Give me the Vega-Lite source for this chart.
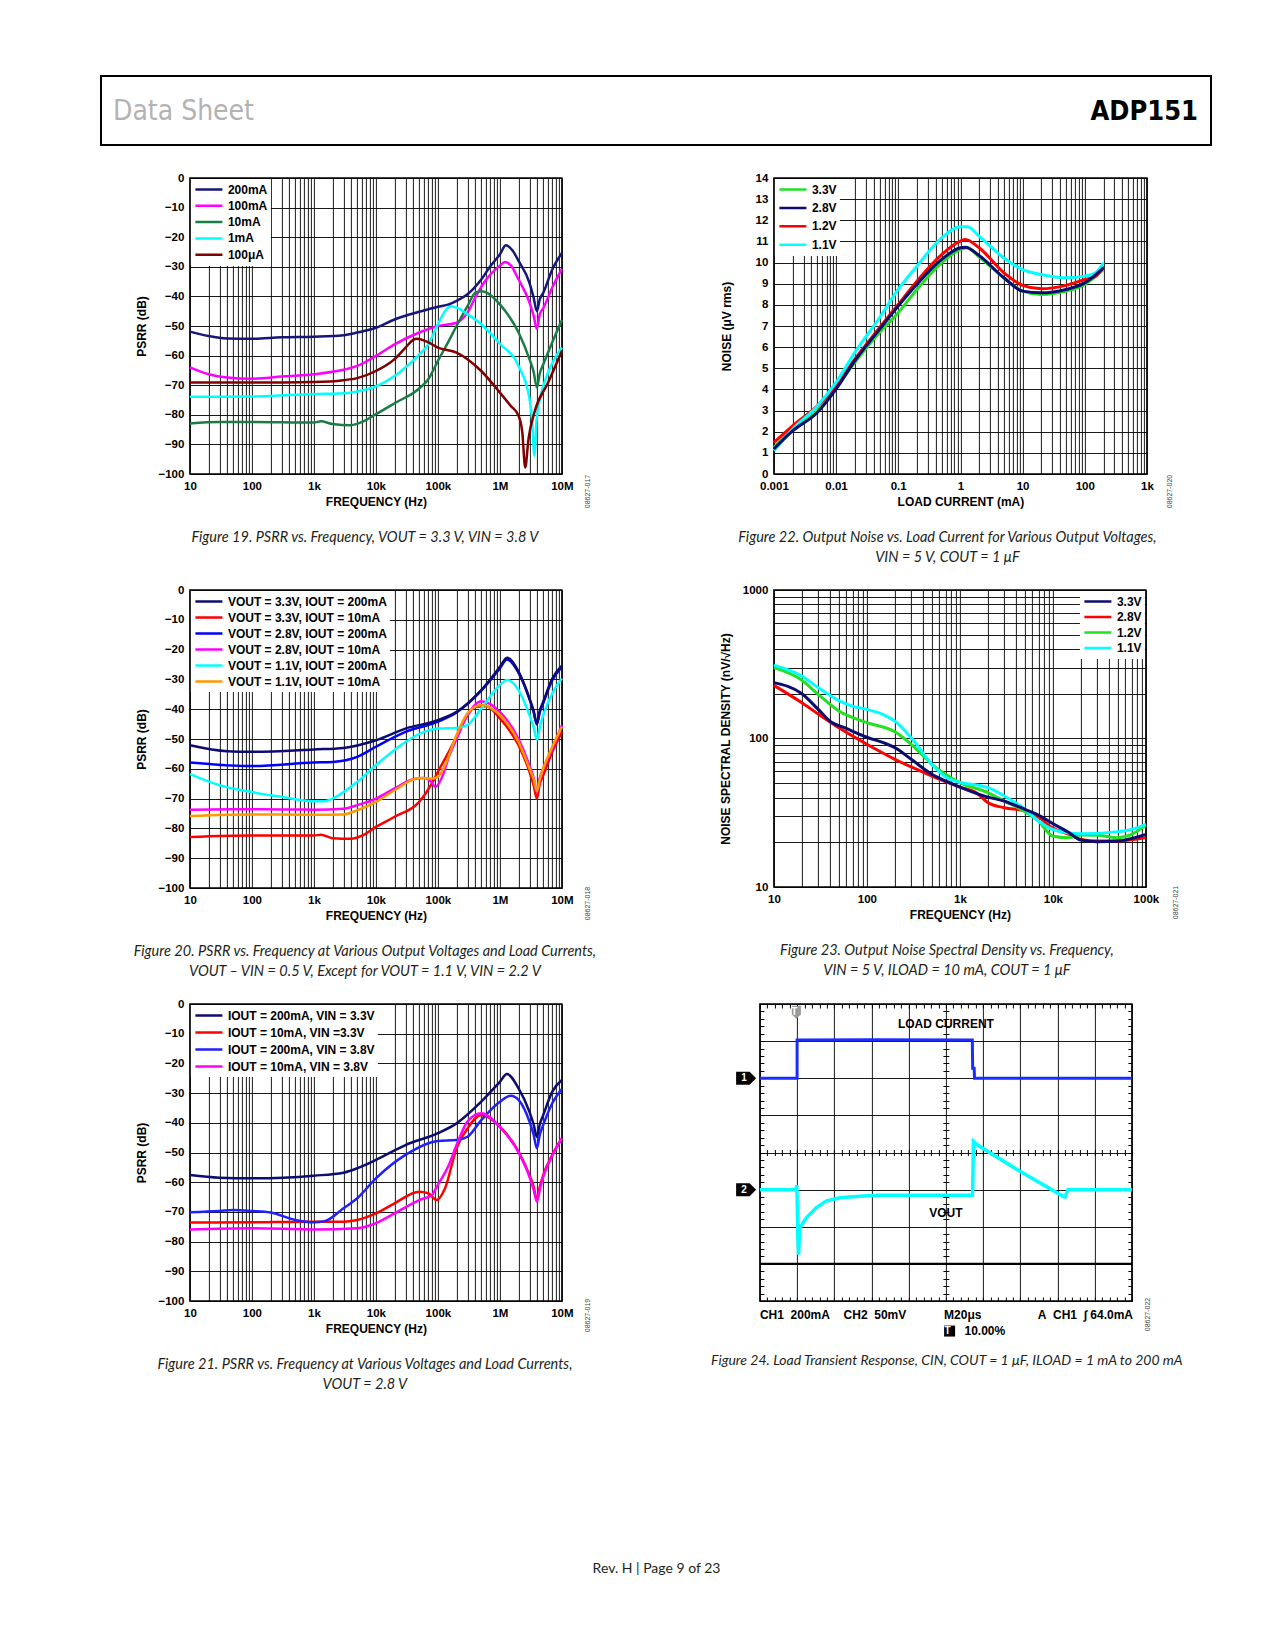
{
"$schema": "https://vega.github.io/schema/vega-lite/v6.json",
"background": "white",
"padding": {"left": 100, "top": 75, "right": 0, "bottom": 5},
"title": {"text": "Rev. H | Page 9 of 23", "orient": "bottom", "anchor": "middle", "frame": "bounds", "dx": -30, "font": "Lato", "fontStyle": "normal", "fontWeight": "normal", "fontSize": 14, "color": "#231f20", "offset": 170},
"spacing": 25,
"center": true,
"resolve": {"scale": {"color": "independent"}, "legend": {"color": "independent"}},
"datasets": {
"d19": [
{"s":"200mA","f":10,"v":-51.9},{"s":"200mA","f":20,"v":-53.4},{"s":"200mA","f":40,"v":-54.2},{"s":"200mA","f":100,"v":-54.3},{"s":"200mA","f":300,"v":-53.8},{"s":"200mA","f":1000,"v":-53.6},{"s":"200mA","f":3000,"v":-53.1},{"s":"200mA","f":5000,"v":-52.2},{"s":"200mA","f":10000,"v":-50.6},{"s":"200mA","f":20000,"v":-47.8},{"s":"200mA","f":50000,"v":-45.2},{"s":"200mA","f":100000,"v":-43.5},{"s":"200mA","f":150000,"v":-42.7},{"s":"200mA","f":200000,"v":-41.5},{"s":"200mA","f":300000,"v":-39.3},{"s":"200mA","f":500000,"v":-34.3},{"s":"200mA","f":700000,"v":-29.8},{"s":"200mA","f":1000000,"v":-25.8},{"s":"200mA","f":1250000,"v":-22.7},{"s":"200mA","f":1600000,"v":-24.5},{"s":"200mA","f":2000000,"v":-28},{"s":"200mA","f":3000000,"v":-35.4},{"s":"200mA","f":3500000,"v":-40.4},{"s":"200mA","f":3950000,"v":-45},{"s":"200mA","f":4400000,"v":-41},{"s":"200mA","f":5000000,"v":-38.8},{"s":"200mA","f":7000000,"v":-30.9},{"s":"200mA","f":10000000,"v":-25.3},
{"s":"100mA","f":10,"v":-64},{"s":"100mA","f":20,"v":-66.3},{"s":"100mA","f":40,"v":-67.4},{"s":"100mA","f":100,"v":-67.8},{"s":"100mA","f":300,"v":-67.1},{"s":"100mA","f":1000,"v":-66.3},{"s":"100mA","f":3000,"v":-64.8},{"s":"100mA","f":5000,"v":-63.5},{"s":"100mA","f":10000,"v":-60.1},{"s":"100mA","f":20000,"v":-56.2},{"s":"100mA","f":50000,"v":-52.2},{"s":"100mA","f":100000,"v":-50},{"s":"100mA","f":200000,"v":-48.9},{"s":"100mA","f":300000,"v":-45.5},{"s":"100mA","f":400000,"v":-40.4},{"s":"100mA","f":600000,"v":-34.3},{"s":"100mA","f":1000000,"v":-29.6},{"s":"100mA","f":1200000,"v":-28.4},{"s":"100mA","f":1500000,"v":-29.5},{"s":"100mA","f":2000000,"v":-34.3},{"s":"100mA","f":3000000,"v":-42.1},{"s":"100mA","f":3500000,"v":-46.5},{"s":"100mA","f":3950000,"v":-51},{"s":"100mA","f":4400000,"v":-46},{"s":"100mA","f":5000000,"v":-44},{"s":"100mA","f":7000000,"v":-37},{"s":"100mA","f":10000000,"v":-30.7},
{"s":"10mA","f":10,"v":-82.9},{"s":"10mA","f":30,"v":-82.4},{"s":"10mA","f":100,"v":-82.4},{"s":"10mA","f":1000,"v":-82.6},{"s":"10mA","f":1300,"v":-82.2},{"s":"10mA","f":2000,"v":-83.1},{"s":"10mA","f":4000,"v":-83.5},{"s":"10mA","f":6000,"v":-82.4},{"s":"10mA","f":10000,"v":-79.8},{"s":"10mA","f":20000,"v":-76.1},{"s":"10mA","f":50000,"v":-71.1},{"s":"10mA","f":70000,"v":-68},{"s":"10mA","f":100000,"v":-61.8},{"s":"10mA","f":150000,"v":-55},{"s":"10mA","f":200000,"v":-50},{"s":"10mA","f":300000,"v":-43.3},{"s":"10mA","f":400000,"v":-38.8},{"s":"10mA","f":500000,"v":-38.3},{"s":"10mA","f":700000,"v":-39.5},{"s":"10mA","f":1000000,"v":-42.7},{"s":"10mA","f":2000000,"v":-52.2},{"s":"10mA","f":3000000,"v":-61.2},{"s":"10mA","f":3500000,"v":-65.5},{"s":"10mA","f":3950000,"v":-70.8},{"s":"10mA","f":4400000,"v":-66},{"s":"10mA","f":5000000,"v":-63},{"s":"10mA","f":7000000,"v":-55.5},{"s":"10mA","f":10000000,"v":-48},
{"s":"1mA","f":10,"v":-73.9},{"s":"1mA","f":100,"v":-73.8},{"s":"1mA","f":1000,"v":-73},{"s":"1mA","f":3000,"v":-72.7},{"s":"1mA","f":5000,"v":-72.1},{"s":"1mA","f":10000,"v":-70.4},{"s":"1mA","f":20000,"v":-66.9},{"s":"1mA","f":50000,"v":-59.6},{"s":"1mA","f":70000,"v":-56.2},{"s":"1mA","f":100000,"v":-49.4},{"s":"1mA","f":130000,"v":-45},{"s":"1mA","f":160000,"v":-43.3},{"s":"1mA","f":200000,"v":-43.8},{"s":"1mA","f":300000,"v":-46},{"s":"1mA","f":500000,"v":-49.4},{"s":"1mA","f":1000000,"v":-56},{"s":"1mA","f":2000000,"v":-63.5},{"s":"1mA","f":3000000,"v":-74.5},{"s":"1mA","f":3300000,"v":-81.5},{"s":"1mA","f":3600000,"v":-93.8},{"s":"1mA","f":3900000,"v":-82},{"s":"1mA","f":4500000,"v":-74},{"s":"1mA","f":6000000,"v":-65.7},{"s":"1mA","f":10000000,"v":-57.3},
{"s":"100μA","f":10,"v":-69.1},{"s":"100μA","f":100,"v":-69.1},{"s":"100μA","f":1000,"v":-68.9},{"s":"100μA","f":3000,"v":-68.3},{"s":"100μA","f":5000,"v":-67.6},{"s":"100μA","f":10000,"v":-65.2},{"s":"100μA","f":20000,"v":-61.2},{"s":"100μA","f":30000,"v":-57.3},{"s":"100μA","f":40000,"v":-54.7},{"s":"100μA","f":45000,"v":-54.3},{"s":"100μA","f":70000,"v":-55.5},{"s":"100μA","f":100000,"v":-57.3},{"s":"100μA","f":200000,"v":-59},{"s":"100μA","f":300000,"v":-61.2},{"s":"100μA","f":500000,"v":-65.2},{"s":"100μA","f":1000000,"v":-72.5},{"s":"100μA","f":1500000,"v":-77},{"s":"100μA","f":2000000,"v":-80.3},{"s":"100μA","f":2300000,"v":-86},{"s":"100μA","f":2560000,"v":-97.8},{"s":"100μA","f":2900000,"v":-88},{"s":"100μA","f":3600000,"v":-79.2},{"s":"100μA","f":6000000,"v":-69.1},{"s":"100μA","f":10000000,"v":-58.4}
],
"d20": [
{"s":"VOUT = 3.3V, IOUT = 200mA","f":10,"v":-52.1},{"s":"VOUT = 3.3V, IOUT = 200mA","f":40,"v":-54.1},{"s":"VOUT = 3.3V, IOUT = 200mA","f":100,"v":-54.3},{"s":"VOUT = 3.3V, IOUT = 200mA","f":1000,"v":-53.5},{"s":"VOUT = 3.3V, IOUT = 200mA","f":3000,"v":-53},{"s":"VOUT = 3.3V, IOUT = 200mA","f":10000,"v":-50.4},{"s":"VOUT = 3.3V, IOUT = 200mA","f":30000,"v":-46.5},{"s":"VOUT = 3.3V, IOUT = 200mA","f":100000,"v":-43.7},{"s":"VOUT = 3.3V, IOUT = 200mA","f":200000,"v":-40.9},{"s":"VOUT = 3.3V, IOUT = 200mA","f":500000,"v":-33.6},{"s":"VOUT = 3.3V, IOUT = 200mA","f":1000000,"v":-25.8},{"s":"VOUT = 3.3V, IOUT = 200mA","f":1300000,"v":-22.7},{"s":"VOUT = 3.3V, IOUT = 200mA","f":2000000,"v":-27.4},{"s":"VOUT = 3.3V, IOUT = 200mA","f":3000000,"v":-36.4},{"s":"VOUT = 3.3V, IOUT = 200mA","f":3500000,"v":-40.5},{"s":"VOUT = 3.3V, IOUT = 200mA","f":3950000,"v":-44.8},{"s":"VOUT = 3.3V, IOUT = 200mA","f":4400000,"v":-40.5},{"s":"VOUT = 3.3V, IOUT = 200mA","f":5000000,"v":-37.5},{"s":"VOUT = 3.3V, IOUT = 200mA","f":7000000,"v":-29.7},{"s":"VOUT = 3.3V, IOUT = 200mA","f":10000000,"v":-25.4},
{"s":"VOUT = 3.3V, IOUT = 10mA","f":10,"v":-82.9},{"s":"VOUT = 3.3V, IOUT = 10mA","f":100,"v":-82.4},{"s":"VOUT = 3.3V, IOUT = 10mA","f":1000,"v":-82.4},{"s":"VOUT = 3.3V, IOUT = 10mA","f":1300,"v":-82.1},{"s":"VOUT = 3.3V, IOUT = 10mA","f":2000,"v":-83.3},{"s":"VOUT = 3.3V, IOUT = 10mA","f":4000,"v":-83.5},{"s":"VOUT = 3.3V, IOUT = 10mA","f":6000,"v":-82.4},{"s":"VOUT = 3.3V, IOUT = 10mA","f":10000,"v":-79.5},{"s":"VOUT = 3.3V, IOUT = 10mA","f":20000,"v":-76.1},{"s":"VOUT = 3.3V, IOUT = 10mA","f":50000,"v":-71.1},{"s":"VOUT = 3.3V, IOUT = 10mA","f":80000,"v":-64.9},{"s":"VOUT = 3.3V, IOUT = 10mA","f":100000,"v":-61},{"s":"VOUT = 3.3V, IOUT = 10mA","f":150000,"v":-54.3},{"s":"VOUT = 3.3V, IOUT = 10mA","f":200000,"v":-49.3},{"s":"VOUT = 3.3V, IOUT = 10mA","f":300000,"v":-42},{"s":"VOUT = 3.3V, IOUT = 10mA","f":400000,"v":-39.2},{"s":"VOUT = 3.3V, IOUT = 10mA","f":600000,"v":-39},{"s":"VOUT = 3.3V, IOUT = 10mA","f":1000000,"v":-43.1},{"s":"VOUT = 3.3V, IOUT = 10mA","f":2000000,"v":-52.1},{"s":"VOUT = 3.3V, IOUT = 10mA","f":3000000,"v":-61},{"s":"VOUT = 3.3V, IOUT = 10mA","f":3500000,"v":-65.5},{"s":"VOUT = 3.3V, IOUT = 10mA","f":3950000,"v":-70},{"s":"VOUT = 3.3V, IOUT = 10mA","f":4400000,"v":-65},{"s":"VOUT = 3.3V, IOUT = 10mA","f":5000000,"v":-62.2},{"s":"VOUT = 3.3V, IOUT = 10mA","f":7000000,"v":-54.3},{"s":"VOUT = 3.3V, IOUT = 10mA","f":10000000,"v":-47.6},
{"s":"VOUT = 2.8V, IOUT = 200mA","f":10,"v":-57.9},{"s":"VOUT = 2.8V, IOUT = 200mA","f":100,"v":-59.1},{"s":"VOUT = 2.8V, IOUT = 200mA","f":1000,"v":-57.9},{"s":"VOUT = 2.8V, IOUT = 200mA","f":2000,"v":-57.7},{"s":"VOUT = 2.8V, IOUT = 200mA","f":5000,"v":-56},{"s":"VOUT = 2.8V, IOUT = 200mA","f":10000,"v":-52.6},{"s":"VOUT = 2.8V, IOUT = 200mA","f":30000,"v":-47.6},{"s":"VOUT = 2.8V, IOUT = 200mA","f":100000,"v":-44.2},{"s":"VOUT = 2.8V, IOUT = 200mA","f":200000,"v":-41.1},{"s":"VOUT = 2.8V, IOUT = 200mA","f":500000,"v":-33.8},{"s":"VOUT = 2.8V, IOUT = 200mA","f":1000000,"v":-26.3},{"s":"VOUT = 2.8V, IOUT = 200mA","f":1300000,"v":-23.3},{"s":"VOUT = 2.8V, IOUT = 200mA","f":2000000,"v":-27.8},{"s":"VOUT = 2.8V, IOUT = 200mA","f":3000000,"v":-36.6},{"s":"VOUT = 2.8V, IOUT = 200mA","f":3500000,"v":-41},{"s":"VOUT = 2.8V, IOUT = 200mA","f":3950000,"v":-45.1},{"s":"VOUT = 2.8V, IOUT = 200mA","f":4400000,"v":-41},{"s":"VOUT = 2.8V, IOUT = 200mA","f":5000000,"v":-38},{"s":"VOUT = 2.8V, IOUT = 200mA","f":7000000,"v":-30.3},{"s":"VOUT = 2.8V, IOUT = 200mA","f":10000000,"v":-25.8},
{"s":"VOUT = 2.8V, IOUT = 10mA","f":10,"v":-73.7},{"s":"VOUT = 2.8V, IOUT = 10mA","f":100,"v":-73.6},{"s":"VOUT = 2.8V, IOUT = 10mA","f":1000,"v":-73.7},{"s":"VOUT = 2.8V, IOUT = 10mA","f":3000,"v":-73.4},{"s":"VOUT = 2.8V, IOUT = 10mA","f":5000,"v":-72.2},{"s":"VOUT = 2.8V, IOUT = 10mA","f":10000,"v":-70},{"s":"VOUT = 2.8V, IOUT = 10mA","f":20000,"v":-66.6},{"s":"VOUT = 2.8V, IOUT = 10mA","f":40000,"v":-63.5},{"s":"VOUT = 2.8V, IOUT = 10mA","f":60000,"v":-63.1},{"s":"VOUT = 2.8V, IOUT = 10mA","f":80000,"v":-64.6},{"s":"VOUT = 2.8V, IOUT = 10mA","f":91000,"v":-66.1},{"s":"VOUT = 2.8V, IOUT = 10mA","f":120000,"v":-62.2},{"s":"VOUT = 2.8V, IOUT = 10mA","f":150000,"v":-56},{"s":"VOUT = 2.8V, IOUT = 10mA","f":200000,"v":-50},{"s":"VOUT = 2.8V, IOUT = 10mA","f":300000,"v":-42},{"s":"VOUT = 2.8V, IOUT = 10mA","f":500000,"v":-37.3},{"s":"VOUT = 2.8V, IOUT = 10mA","f":1000000,"v":-40.9},{"s":"VOUT = 2.8V, IOUT = 10mA","f":2000000,"v":-50},{"s":"VOUT = 2.8V, IOUT = 10mA","f":3000000,"v":-58.9},{"s":"VOUT = 2.8V, IOUT = 10mA","f":3500000,"v":-63},{"s":"VOUT = 2.8V, IOUT = 10mA","f":3950000,"v":-67.7},{"s":"VOUT = 2.8V, IOUT = 10mA","f":4400000,"v":-63},{"s":"VOUT = 2.8V, IOUT = 10mA","f":5000000,"v":-60},{"s":"VOUT = 2.8V, IOUT = 10mA","f":7000000,"v":-53.3},{"s":"VOUT = 2.8V, IOUT = 10mA","f":10000000,"v":-45.4},
{"s":"VOUT = 1.1V, IOUT = 200mA","f":10,"v":-61.8},{"s":"VOUT = 1.1V, IOUT = 200mA","f":30,"v":-65.5},{"s":"VOUT = 1.1V, IOUT = 200mA","f":100,"v":-67.8},{"s":"VOUT = 1.1V, IOUT = 200mA","f":300,"v":-69.4},{"s":"VOUT = 1.1V, IOUT = 200mA","f":1000,"v":-70.9},{"s":"VOUT = 1.1V, IOUT = 200mA","f":1500,"v":-70.9},{"s":"VOUT = 1.1V, IOUT = 200mA","f":2000,"v":-70},{"s":"VOUT = 1.1V, IOUT = 200mA","f":5000,"v":-64.4},{"s":"VOUT = 1.1V, IOUT = 200mA","f":10000,"v":-58.8},{"s":"VOUT = 1.1V, IOUT = 200mA","f":30000,"v":-51},{"s":"VOUT = 1.1V, IOUT = 200mA","f":60000,"v":-47.6},{"s":"VOUT = 1.1V, IOUT = 200mA","f":100000,"v":-46.5},{"s":"VOUT = 1.1V, IOUT = 200mA","f":200000,"v":-46.3},{"s":"VOUT = 1.1V, IOUT = 200mA","f":300000,"v":-45.3},{"s":"VOUT = 1.1V, IOUT = 200mA","f":500000,"v":-39.8},{"s":"VOUT = 1.1V, IOUT = 200mA","f":1000000,"v":-31.9},{"s":"VOUT = 1.1V, IOUT = 200mA","f":1300000,"v":-30.2},{"s":"VOUT = 1.1V, IOUT = 200mA","f":2000000,"v":-33.6},{"s":"VOUT = 1.1V, IOUT = 200mA","f":3000000,"v":-42},{"s":"VOUT = 1.1V, IOUT = 200mA","f":3500000,"v":-46},{"s":"VOUT = 1.1V, IOUT = 200mA","f":3950000,"v":-50.2},{"s":"VOUT = 1.1V, IOUT = 200mA","f":4400000,"v":-46},{"s":"VOUT = 1.1V, IOUT = 200mA","f":5000000,"v":-42},{"s":"VOUT = 1.1V, IOUT = 200mA","f":7000000,"v":-34.7},{"s":"VOUT = 1.1V, IOUT = 200mA","f":10000000,"v":-29.7},
{"s":"VOUT = 1.1V, IOUT = 10mA","f":10,"v":-75.8},{"s":"VOUT = 1.1V, IOUT = 10mA","f":100,"v":-75.3},{"s":"VOUT = 1.1V, IOUT = 10mA","f":1000,"v":-75.4},{"s":"VOUT = 1.1V, IOUT = 10mA","f":3000,"v":-75.3},{"s":"VOUT = 1.1V, IOUT = 10mA","f":5000,"v":-73.9},{"s":"VOUT = 1.1V, IOUT = 10mA","f":10000,"v":-71.1},{"s":"VOUT = 1.1V, IOUT = 10mA","f":20000,"v":-67.2},{"s":"VOUT = 1.1V, IOUT = 10mA","f":50000,"v":-63.1},{"s":"VOUT = 1.1V, IOUT = 10mA","f":80000,"v":-63.3},{"s":"VOUT = 1.1V, IOUT = 10mA","f":100000,"v":-62.7},{"s":"VOUT = 1.1V, IOUT = 10mA","f":130000,"v":-58.8},{"s":"VOUT = 1.1V, IOUT = 10mA","f":200000,"v":-48.7},{"s":"VOUT = 1.1V, IOUT = 10mA","f":300000,"v":-41.4},{"s":"VOUT = 1.1V, IOUT = 10mA","f":500000,"v":-38.6},{"s":"VOUT = 1.1V, IOUT = 10mA","f":1000000,"v":-42},{"s":"VOUT = 1.1V, IOUT = 10mA","f":2000000,"v":-51},{"s":"VOUT = 1.1V, IOUT = 10mA","f":3000000,"v":-59.9},{"s":"VOUT = 1.1V, IOUT = 10mA","f":3500000,"v":-63.5},{"s":"VOUT = 1.1V, IOUT = 10mA","f":3950000,"v":-67.5},{"s":"VOUT = 1.1V, IOUT = 10mA","f":4400000,"v":-63.5},{"s":"VOUT = 1.1V, IOUT = 10mA","f":5000000,"v":-59.9},{"s":"VOUT = 1.1V, IOUT = 10mA","f":7000000,"v":-52.6},{"s":"VOUT = 1.1V, IOUT = 10mA","f":10000000,"v":-45.9}
],
"d21": [
{"s":"IOUT = 200mA, VIN = 3.3V","f":10,"v":-57.6},{"s":"IOUT = 200mA, VIN = 3.3V","f":30,"v":-58.5},{"s":"IOUT = 200mA, VIN = 3.3V","f":100,"v":-58.7},{"s":"IOUT = 200mA, VIN = 3.3V","f":1000,"v":-57.8},{"s":"IOUT = 200mA, VIN = 3.3V","f":3000,"v":-56.8},{"s":"IOUT = 200mA, VIN = 3.3V","f":5000,"v":-55.3},{"s":"IOUT = 200mA, VIN = 3.3V","f":10000,"v":-52.5},{"s":"IOUT = 200mA, VIN = 3.3V","f":30000,"v":-47.5},{"s":"IOUT = 200mA, VIN = 3.3V","f":100000,"v":-43.5},{"s":"IOUT = 200mA, VIN = 3.3V","f":200000,"v":-40.2},{"s":"IOUT = 200mA, VIN = 3.3V","f":500000,"v":-32.9},{"s":"IOUT = 200mA, VIN = 3.3V","f":1000000,"v":-26.2},{"s":"IOUT = 200mA, VIN = 3.3V","f":1300000,"v":-23.6},{"s":"IOUT = 200mA, VIN = 3.3V","f":2000000,"v":-28.4},{"s":"IOUT = 200mA, VIN = 3.3V","f":3000000,"v":-36.3},{"s":"IOUT = 200mA, VIN = 3.3V","f":3500000,"v":-40.5},{"s":"IOUT = 200mA, VIN = 3.3V","f":3950000,"v":-44.7},{"s":"IOUT = 200mA, VIN = 3.3V","f":4400000,"v":-40.5},{"s":"IOUT = 200mA, VIN = 3.3V","f":5000000,"v":-37.4},{"s":"IOUT = 200mA, VIN = 3.3V","f":7000000,"v":-29.5},{"s":"IOUT = 200mA, VIN = 3.3V","f":10000000,"v":-25.6},
{"s":"IOUT = 10mA, VIN =3.3V","f":10,"v":-73.6},{"s":"IOUT = 10mA, VIN =3.3V","f":100,"v":-73.5},{"s":"IOUT = 10mA, VIN =3.3V","f":1000,"v":-73.3},{"s":"IOUT = 10mA, VIN =3.3V","f":3000,"v":-73.3},{"s":"IOUT = 10mA, VIN =3.3V","f":5000,"v":-72.7},{"s":"IOUT = 10mA, VIN =3.3V","f":10000,"v":-70.5},{"s":"IOUT = 10mA, VIN =3.3V","f":20000,"v":-67.1},{"s":"IOUT = 10mA, VIN =3.3V","f":50000,"v":-63.2},{"s":"IOUT = 10mA, VIN =3.3V","f":70000,"v":-63.7},{"s":"IOUT = 10mA, VIN =3.3V","f":95000,"v":-66},{"s":"IOUT = 10mA, VIN =3.3V","f":130000,"v":-62.1},{"s":"IOUT = 10mA, VIN =3.3V","f":200000,"v":-48.6},{"s":"IOUT = 10mA, VIN =3.3V","f":300000,"v":-41.9},{"s":"IOUT = 10mA, VIN =3.3V","f":500000,"v":-37.4},{"s":"IOUT = 10mA, VIN =3.3V","f":1000000,"v":-41.3},{"s":"IOUT = 10mA, VIN =3.3V","f":2000000,"v":-49.7},{"s":"IOUT = 10mA, VIN =3.3V","f":3000000,"v":-57.6},{"s":"IOUT = 10mA, VIN =3.3V","f":3500000,"v":-61.5},{"s":"IOUT = 10mA, VIN =3.3V","f":3950000,"v":-66},{"s":"IOUT = 10mA, VIN =3.3V","f":4400000,"v":-61.5},{"s":"IOUT = 10mA, VIN =3.3V","f":5000000,"v":-57.6},{"s":"IOUT = 10mA, VIN =3.3V","f":7000000,"v":-50.8},{"s":"IOUT = 10mA, VIN =3.3V","f":10000000,"v":-45.2},
{"s":"IOUT = 200mA, VIN = 3.8V","f":10,"v":-70.1},{"s":"IOUT = 200mA, VIN = 3.8V","f":30,"v":-69.7},{"s":"IOUT = 200mA, VIN = 3.8V","f":50,"v":-69.4},{"s":"IOUT = 200mA, VIN = 3.8V","f":100,"v":-69.7},{"s":"IOUT = 200mA, VIN = 3.8V","f":200,"v":-70.2},{"s":"IOUT = 200mA, VIN = 3.8V","f":500,"v":-72.7},{"s":"IOUT = 200mA, VIN = 3.8V","f":1000,"v":-73.5},{"s":"IOUT = 200mA, VIN = 3.8V","f":1500,"v":-73.1},{"s":"IOUT = 200mA, VIN = 3.8V","f":3000,"v":-68.8},{"s":"IOUT = 200mA, VIN = 3.8V","f":5000,"v":-65.4},{"s":"IOUT = 200mA, VIN = 3.8V","f":10000,"v":-58.7},{"s":"IOUT = 200mA, VIN = 3.8V","f":30000,"v":-50.8},{"s":"IOUT = 200mA, VIN = 3.8V","f":100000,"v":-46.1},{"s":"IOUT = 200mA, VIN = 3.8V","f":200000,"v":-45.8},{"s":"IOUT = 200mA, VIN = 3.8V","f":300000,"v":-44.7},{"s":"IOUT = 200mA, VIN = 3.8V","f":500000,"v":-39.1},{"s":"IOUT = 200mA, VIN = 3.8V","f":1000000,"v":-32.9},{"s":"IOUT = 200mA, VIN = 3.8V","f":1500000,"v":-30.9},{"s":"IOUT = 200mA, VIN = 3.8V","f":2000000,"v":-32.3},{"s":"IOUT = 200mA, VIN = 3.8V","f":3000000,"v":-39.6},{"s":"IOUT = 200mA, VIN = 3.8V","f":3500000,"v":-44},{"s":"IOUT = 200mA, VIN = 3.8V","f":3950000,"v":-48.6},{"s":"IOUT = 200mA, VIN = 3.8V","f":4400000,"v":-44},{"s":"IOUT = 200mA, VIN = 3.8V","f":5000000,"v":-40.7},{"s":"IOUT = 200mA, VIN = 3.8V","f":7000000,"v":-33.4},{"s":"IOUT = 200mA, VIN = 3.8V","f":10000000,"v":-28.6},
{"s":"IOUT = 10mA, VIN = 3.8V","f":10,"v":-75.9},{"s":"IOUT = 10mA, VIN = 3.8V","f":100,"v":-75.5},{"s":"IOUT = 10mA, VIN = 3.8V","f":1000,"v":-75.9},{"s":"IOUT = 10mA, VIN = 3.8V","f":5000,"v":-75.5},{"s":"IOUT = 10mA, VIN = 3.8V","f":10000,"v":-73.8},{"s":"IOUT = 10mA, VIN = 3.8V","f":20000,"v":-70.5},{"s":"IOUT = 10mA, VIN = 3.8V","f":50000,"v":-66},{"s":"IOUT = 10mA, VIN = 3.8V","f":80000,"v":-64.3},{"s":"IOUT = 10mA, VIN = 3.8V","f":100000,"v":-60.9},{"s":"IOUT = 10mA, VIN = 3.8V","f":150000,"v":-54.2},{"s":"IOUT = 10mA, VIN = 3.8V","f":200000,"v":-47.5},{"s":"IOUT = 10mA, VIN = 3.8V","f":300000,"v":-39.6},{"s":"IOUT = 10mA, VIN = 3.8V","f":500000,"v":-36.8},{"s":"IOUT = 10mA, VIN = 3.8V","f":1000000,"v":-41.5},{"s":"IOUT = 10mA, VIN = 3.8V","f":2000000,"v":-50},{"s":"IOUT = 10mA, VIN = 3.8V","f":3000000,"v":-58.2},{"s":"IOUT = 10mA, VIN = 3.8V","f":3500000,"v":-62.5},{"s":"IOUT = 10mA, VIN = 3.8V","f":3950000,"v":-66.6},{"s":"IOUT = 10mA, VIN = 3.8V","f":4400000,"v":-62.5},{"s":"IOUT = 10mA, VIN = 3.8V","f":5000000,"v":-58.2},{"s":"IOUT = 10mA, VIN = 3.8V","f":7000000,"v":-51},{"s":"IOUT = 10mA, VIN = 3.8V","f":10000000,"v":-45.2}
],
"d22": [
{"s":"3.3V","f":0.001,"v":1.26},{"s":"3.3V","f":0.002,"v":2.12},{"s":"3.3V","f":0.005,"v":2.99},{"s":"3.3V","f":0.01,"v":4.09},{"s":"3.3V","f":0.02,"v":5.27},{"s":"3.3V","f":0.05,"v":6.69},{"s":"3.3V","f":0.1,"v":7.63},{"s":"3.3V","f":0.2,"v":8.73},{"s":"3.3V","f":0.5,"v":9.99},{"s":"3.3V","f":1,"v":10.62},{"s":"3.3V","f":1.3,"v":10.7},{"s":"3.3V","f":2,"v":10.27},{"s":"3.3V","f":5,"v":9.28},{"s":"3.3V","f":10,"v":8.65},{"s":"3.3V","f":20,"v":8.49},{"s":"3.3V","f":50,"v":8.65},{"s":"3.3V","f":100,"v":8.97},{"s":"3.3V","f":200,"v":9.67},
{"s":"2.8V","f":0.001,"v":1.18},{"s":"2.8V","f":0.002,"v":2.04},{"s":"2.8V","f":0.005,"v":2.91},{"s":"2.8V","f":0.01,"v":4.01},{"s":"2.8V","f":0.02,"v":5.35},{"s":"2.8V","f":0.05,"v":6.84},{"s":"2.8V","f":0.1,"v":7.94},{"s":"2.8V","f":0.2,"v":8.97},{"s":"2.8V","f":0.5,"v":10.15},{"s":"2.8V","f":1,"v":10.7},{"s":"2.8V","f":1.2,"v":10.73},{"s":"2.8V","f":2,"v":10.33},{"s":"2.8V","f":5,"v":9.28},{"s":"2.8V","f":10,"v":8.65},{"s":"2.8V","f":20,"v":8.57},{"s":"2.8V","f":50,"v":8.73},{"s":"2.8V","f":100,"v":9.04},{"s":"2.8V","f":200,"v":9.75},
{"s":"1.2V","f":0.001,"v":1.49},{"s":"1.2V","f":0.002,"v":2.28},{"s":"1.2V","f":0.005,"v":3.22},{"s":"1.2V","f":0.01,"v":4.17},{"s":"1.2V","f":0.02,"v":5.43},{"s":"1.2V","f":0.05,"v":6.92},{"s":"1.2V","f":0.1,"v":8.02},{"s":"1.2V","f":0.2,"v":9.12},{"s":"1.2V","f":0.5,"v":10.38},{"s":"1.2V","f":1,"v":11.01},{"s":"1.2V","f":1.2,"v":11.09},{"s":"1.2V","f":2,"v":10.7},{"s":"1.2V","f":5,"v":9.52},{"s":"1.2V","f":10,"v":8.92},{"s":"1.2V","f":20,"v":8.76},{"s":"1.2V","f":50,"v":8.92},{"s":"1.2V","f":100,"v":9.2},{"s":"1.2V","f":150,"v":9.36},{"s":"1.2V","f":200,"v":9.83},
{"s":"1.1V","f":0.001,"v":1.1},{"s":"1.1V","f":0.002,"v":2.12},{"s":"1.1V","f":0.005,"v":3.22},{"s":"1.1V","f":0.01,"v":4.33},{"s":"1.1V","f":0.02,"v":5.74},{"s":"1.1V","f":0.05,"v":7.39},{"s":"1.1V","f":0.1,"v":8.73},{"s":"1.1V","f":0.2,"v":9.83},{"s":"1.1V","f":0.5,"v":11.17},{"s":"1.1V","f":1,"v":11.69},{"s":"1.1V","f":1.3,"v":11.69},{"s":"1.1V","f":2,"v":11.25},{"s":"1.1V","f":5,"v":10.22},{"s":"1.1V","f":10,"v":9.67},{"s":"1.1V","f":20,"v":9.44},{"s":"1.1V","f":50,"v":9.28},{"s":"1.1V","f":100,"v":9.36},{"s":"1.1V","f":150,"v":9.52},{"s":"1.1V","f":200,"v":9.99}
],
"d23": [
{"s":"3.3V","f":10,"v":237.7},{"s":"3.3V","f":20,"v":200},{"s":"3.3V","f":30,"v":157},{"s":"3.3V","f":40,"v":131},{"s":"3.3V","f":60,"v":117},{"s":"3.3V","f":100,"v":102},{"s":"3.3V","f":150,"v":93.7},{"s":"3.3V","f":200,"v":86.8},{"s":"3.3V","f":300,"v":72.4},{"s":"3.3V","f":500,"v":57.4},{"s":"3.3V","f":700,"v":51.8},{"s":"3.3V","f":1000,"v":47.1},{"s":"3.3V","f":2000,"v":40.3},{"s":"3.3V","f":3000,"v":37.9},{"s":"3.3V","f":5000,"v":33.3},{"s":"3.3V","f":7000,"v":30.5},{"s":"3.3V","f":10000,"v":26.7},{"s":"3.3V","f":15000,"v":23.2},{"s":"3.3V","f":20000,"v":20.7},{"s":"3.3V","f":30000,"v":20.2},{"s":"3.3V","f":50000,"v":20.4},{"s":"3.3V","f":100000,"v":22.6},
{"s":"2.8V","f":10,"v":228},{"s":"2.8V","f":20,"v":174},{"s":"2.8V","f":30,"v":146},{"s":"2.8V","f":50,"v":118},{"s":"2.8V","f":100,"v":91.4},{"s":"2.8V","f":200,"v":72.4},{"s":"2.8V","f":300,"v":64.3},{"s":"2.8V","f":500,"v":55.9},{"s":"2.8V","f":1000,"v":47.1},{"s":"2.8V","f":1500,"v":43.1},{"s":"2.8V","f":2000,"v":37},{"s":"2.8V","f":3000,"v":34.2},{"s":"2.8V","f":5000,"v":32.5},{"s":"2.8V","f":7000,"v":29.6},{"s":"2.8V","f":10000,"v":24.9},{"s":"2.8V","f":15000,"v":22.6},{"s":"2.8V","f":20000,"v":20.9},{"s":"2.8V","f":30000,"v":20.4},{"s":"2.8V","f":50000,"v":20.4},{"s":"2.8V","f":100000,"v":21.5},
{"s":"1.2V","f":10,"v":300},{"s":"1.2V","f":20,"v":247},{"s":"1.2V","f":30,"v":198},{"s":"1.2V","f":50,"v":153},{"s":"1.2V","f":100,"v":128},{"s":"1.2V","f":200,"v":111},{"s":"1.2V","f":300,"v":91.4},{"s":"1.2V","f":500,"v":67},{"s":"1.2V","f":1000,"v":50.5},{"s":"1.2V","f":2000,"v":43.2},{"s":"1.2V","f":3000,"v":37.9},{"s":"1.2V","f":5000,"v":32.2},{"s":"1.2V","f":7000,"v":27.8},{"s":"1.2V","f":10000,"v":22},{"s":"1.2V","f":15000,"v":21.5},{"s":"1.2V","f":20000,"v":22.4},{"s":"1.2V","f":30000,"v":22.3},{"s":"1.2V","f":50000,"v":21.5},{"s":"1.2V","f":70000,"v":22.6},{"s":"1.2V","f":100000,"v":26.2},
{"s":"1.1V","f":10,"v":312},{"s":"1.1V","f":20,"v":263},{"s":"1.1V","f":30,"v":220},{"s":"1.1V","f":50,"v":180},{"s":"1.1V","f":70,"v":165},{"s":"1.1V","f":100,"v":157},{"s":"1.1V","f":150,"v":145},{"s":"1.1V","f":200,"v":131},{"s":"1.1V","f":300,"v":101},{"s":"1.1V","f":500,"v":67},{"s":"1.1V","f":700,"v":55},{"s":"1.1V","f":1000,"v":50.5},{"s":"1.1V","f":1500,"v":48.7},{"s":"1.1V","f":2000,"v":46.7},{"s":"1.1V","f":3000,"v":41},{"s":"1.1V","f":5000,"v":33.4},{"s":"1.1V","f":7000,"v":27.8},{"s":"1.1V","f":10000,"v":24.4},{"s":"1.1V","f":20000,"v":22.8},{"s":"1.1V","f":50000,"v":23.6},{"s":"1.1V","f":70000,"v":24.4},{"s":"1.1V","f":100000,"v":26.4}
],
"d24": [
{"ch":"CH1","i":0,"t":0,"v":6.0},{"ch":"CH1","i":1,"t":1.0,"v":6.0},{"ch":"CH1","i":2,"t":1.0,"v":7.03},{"ch":"CH1","i":3,"t":3.0,"v":7.04},{"ch":"CH1","i":4,"t":5.71,"v":7.03},{"ch":"CH1","i":5,"t":5.72,"v":6.27},{"ch":"CH1","i":6,"t":5.76,"v":6.27},{"ch":"CH1","i":7,"t":5.77,"v":6.0},{"ch":"CH1","i":8,"t":10,"v":6.0},
{"ch":"CH2","i":0,"t":0,"v":3.0},{"ch":"CH2","i":1,"t":0.98,"v":3.0},{"ch":"CH2","i":2,"t":0.99,"v":3.12},{"ch":"CH2","i":3,"t":1.0,"v":2.8},{"ch":"CH2","i":4,"t":1.02,"v":1.7},{"ch":"CH2","i":5,"t":1.04,"v":1.25},{"ch":"CH2","i":6,"t":1.07,"v":1.97},{"ch":"CH2","i":7,"t":1.25,"v":2.24},{"ch":"CH2","i":8,"t":1.51,"v":2.51},{"ch":"CH2","i":9,"t":1.78,"v":2.69},{"ch":"CH2","i":10,"t":2.14,"v":2.78},{"ch":"CH2","i":11,"t":2.68,"v":2.82},{"ch":"CH2","i":12,"t":3.2,"v":2.85},{"ch":"CH2","i":13,"t":5.71,"v":2.85},{"ch":"CH2","i":14,"t":5.72,"v":3.05},{"ch":"CH2","i":15,"t":5.74,"v":4.3},{"ch":"CH2","i":16,"t":5.85,"v":4.2},{"ch":"CH2","i":17,"t":6.98,"v":3.5},{"ch":"CH2","i":18,"t":8.15,"v":2.82},{"ch":"CH2","i":19,"t":8.2,"v":2.8},{"ch":"CH2","i":20,"t":8.28,"v":3.0},{"ch":"CH2","i":21,"t":10,"v":3.0}
]
},
"vconcat": [
{
"width": 1110, "height": 69,
"view": {"stroke": "black", "strokeWidth": 2},
"data": {"values": [{"side": "L", "txt": "Data Sheet"}, {"side": "R", "txt": "ADP151"}]},
"encoding": {
"x": {"field": "side", "type": "nominal", "scale": {"type": "point", "domain": ["L", "R"], "padding": 0}, "axis": null},
"y": {"datum": "m", "type": "nominal", "scale": {"type": "point", "domain": ["m"], "padding": 0.5}, "axis": {"orient": "right", "offset": 61, "domain": true, "domainColor": "transparent", "labels": false, "ticks": false, "grid": false, "title": null}},
"text": {"field": "txt"}
},
"layer": [
{"transform": [{"filter": "datum.side == 'L'"}], "mark": {"type": "text", "align": "left", "baseline": "middle", "dx": 12, "dy": 1, "font": "DejaVu Sans Condensed", "fontSize": 28, "color": "#b3b3b3"}},
{"transform": [{"filter": "datum.side == 'R'"}], "mark": {"type": "text", "align": "right", "baseline": "middle", "dx": -13, "dy": 1, "font": "DejaVu Sans Condensed", "fontWeight": "bold", "fontSize": 27, "color": "black"}}
]
},
{
"columns": 1,
"spacing": 17,
"resolve": {"scale": {"color": "independent"}, "legend": {"color": "independent"}},
"concat": [
{
"resolve": {"scale": {"color": "independent"}, "legend": {"color": "independent"}},
"hconcat": [
{
"width": 372, "height": 296,
"title": {"text": "Figure 19. PSRR vs. Frequency, VOUT = 3.3 V, VIN = 3.8 V", "dx": -11},
"data": {"name": "d19"},
"encoding": {
"x": {"field": "f", "type": "quantitative", "scale": {"type": "log", "domain": [10, 10000000]}, "axis": {"values": [10,20,30,40,50,60,70,80,90,100,200,300,400,500,600,700,800,900,1000,2000,3000,4000,5000,6000,7000,8000,9000,10000,20000,30000,40000,50000,60000,70000,80000,90000,100000,200000,300000,400000,500000,600000,700000,800000,900000,1000000,2000000,3000000,4000000,5000000,6000000,7000000,8000000,9000000,10000000], "labelExpr": "datum.value==10?'10':datum.value==100?'100':datum.value==1000?'1k':datum.value==10000?'10k':datum.value==100000?'100k':datum.value==1000000?'1M':datum.value==10000000?'10M':''", "title": "FREQUENCY (Hz)"}},
"color": {"field": "s", "type": "nominal", "scale": {"domain": ["200mA", "100mA", "10mA", "1mA", "100μA"], "range": ["#16167a", "#ff00ff", "#1b7d45", "#00ffff", "#800000"]}, "legend": {"title": null, "orient": "top-left", "offset": 1, "padding": 3, "rowPadding": 1.3, "clipHeight": 15, "labelExpr": "datum.label + '\u00a0\u00a0\u00a0'"}}
},
"layer": [
{"transform": [{"filter": "datum.s != '200mA'"}], "mark": {"type": "line"}, "encoding": {"y": {"field": "v", "type": "quantitative", "scale": {"domain": [-100, 0]}, "axis": {"values": [-100,-90,-80,-70,-60,-50,-40,-30,-20,-10,0], "title": "PSRR (dB)", "titlePadding": 9}}}},
{"transform": [{"filter": "datum.s == '200mA'"}], "mark": {"type": "line"}, "encoding": {"y": {"field": "v", "type": "quantitative", "scale": {"domain": [-100, 0]}, "axis": {"orient": "right", "labels": false, "grid": false, "title": "08627-017", "titleAngle": 270, "titleX": 26, "titleY": 313, "titleAlign": "center", "titleBaseline": "middle", "titleFontWeight": "normal", "titleFontSize": 7, "titleColor": "#444444"}}}}
],
"resolve": {"axis": {"y": "independent"}}
},
{
"width": 373, "height": 296,
"title": {"text": ["Figure 22. Output Noise vs. Load Current for Various Output Voltages,", "VIN = 5 V, COUT = 1 μF"], "dx": -13},
"data": {"name": "d22"},
"encoding": {
"x": {"field": "f", "type": "quantitative", "scale": {"type": "log", "domain": [0.001, 1000]}, "axis": {"values": [0.001,0.002,0.003,0.004,0.005,0.006,0.007,0.008,0.009,0.01,0.02,0.03,0.04,0.05,0.06,0.07,0.08,0.09,0.1,0.2,0.3,0.4,0.5,0.6,0.7,0.8,0.9,1,2,3,4,5,6,7,8,9,10,20,30,40,50,60,70,80,90,100,200,300,400,500,600,700,800,900,1000], "labelExpr": "datum.value==0.001?'0.001':datum.value==0.01?'0.01':datum.value==0.1?'0.1':datum.value==1?'1':datum.value==10?'10':datum.value==100?'100':datum.value==1000?'1k':''", "title": "LOAD CURRENT (mA)"}},
"color": {"field": "s", "type": "nominal", "scale": {"domain": ["3.3V", "2.8V", "1.2V", "1.1V"], "range": ["#22e022", "#0c0c70", "#ff0000", "#00ffff"]}, "legend": {"title": null, "orient": "top-left", "offset": 1, "padding": 3, "rowPadding": 3.4, "clipHeight": 15, "labelExpr": "datum.label + '\u00a0\u00a0'"}}
},
"layer": [
{"transform": [{"filter": "datum.s != '2.8V'"}], "mark": {"type": "line", "strokeWidth": 3}, "encoding": {"y": {"field": "v", "type": "quantitative", "scale": {"domain": [0, 14]}, "axis": {"values": [0,1,2,3,4,5,6,7,8,9,10,11,12,13,14], "title": "NOISE (μV rms)", "titlePadding": 22}}}},
{"transform": [{"filter": "datum.s == '2.8V'"}], "mark": {"type": "line", "strokeWidth": 3}, "encoding": {"y": {"field": "v", "type": "quantitative", "scale": {"domain": [0, 14]}, "axis": {"orient": "right", "labels": false, "grid": false, "title": "08627-020", "titleAngle": 270, "titleX": 23, "titleY": 313, "titleAlign": "center", "titleBaseline": "middle", "titleFontWeight": "normal", "titleFontSize": 7, "titleColor": "#444444"}}}}
],
"resolve": {"axis": {"y": "independent"}}
}
],
"spacing": 212,
"bounds": "flush"
},
{
"resolve": {"scale": {"color": "independent"}, "legend": {"color": "independent"}},
"hconcat": [
{
"width": 372, "height": 298,
"title": {"text": ["Figure 20. PSRR vs. Frequency at Various Output Voltages and Load Currents,", "VOUT – VIN = 0.5 V, Except for VOUT = 1.1 V, VIN = 2.2 V"], "dx": -11},
"data": {"name": "d20"},
"encoding": {
"x": {"field": "f", "type": "quantitative", "scale": {"type": "log", "domain": [10, 10000000]}, "axis": {"values": [10,20,30,40,50,60,70,80,90,100,200,300,400,500,600,700,800,900,1000,2000,3000,4000,5000,6000,7000,8000,9000,10000,20000,30000,40000,50000,60000,70000,80000,90000,100000,200000,300000,400000,500000,600000,700000,800000,900000,1000000,2000000,3000000,4000000,5000000,6000000,7000000,8000000,9000000,10000000], "labelExpr": "datum.value==10?'10':datum.value==100?'100':datum.value==1000?'1k':datum.value==10000?'10k':datum.value==100000?'100k':datum.value==1000000?'1M':datum.value==10000000?'10M':''", "title": "FREQUENCY (Hz)"}},
"color": {"field": "s", "type": "nominal", "scale": {"domain": ["VOUT = 3.3V, IOUT = 200mA", "VOUT = 3.3V, IOUT = 10mA", "VOUT = 2.8V, IOUT = 200mA", "VOUT = 2.8V, IOUT = 10mA", "VOUT = 1.1V, IOUT = 200mA", "VOUT = 1.1V, IOUT = 10mA"], "range": ["#0c0c72", "#ff0000", "#0000ff", "#ff00ff", "#00ffff", "#ff9900"]}, "legend": {"title": null, "orient": "top-left", "offset": 1, "padding": 3, "rowPadding": 1, "clipHeight": 15}}
},
"layer": [
{"transform": [{"filter": "datum.s != 'VOUT = 3.3V, IOUT = 200mA'"}], "mark": {"type": "line"}, "encoding": {"y": {"field": "v", "type": "quantitative", "scale": {"domain": [-100, 0]}, "axis": {"values": [-100,-90,-80,-70,-60,-50,-40,-30,-20,-10,0], "title": "PSRR (dB)", "titlePadding": 9}}}},
{"transform": [{"filter": "datum.s == 'VOUT = 3.3V, IOUT = 200mA'"}], "mark": {"type": "line"}, "encoding": {"y": {"field": "v", "type": "quantitative", "scale": {"domain": [-100, 0]}, "axis": {"orient": "right", "labels": false, "grid": false, "title": "08627-018", "titleAngle": 270, "titleX": 26, "titleY": 313, "titleAlign": "center", "titleBaseline": "middle", "titleFontWeight": "normal", "titleFontSize": 7, "titleColor": "#444444"}}}}
],
"resolve": {"axis": {"y": "independent"}}
},
{
"width": 372, "height": 297,
"title": {"text": ["Figure 23. Output Noise Spectral Density vs. Frequency,", "VIN = 5 V, ILOAD = 10 mA, COUT = 1 μF"], "dx": -13},
"data": {"name": "d23"},
"encoding": {
"x": {"field": "f", "type": "quantitative", "scale": {"type": "log", "domain": [10, 100000]}, "axis": {"values": [10,20,30,40,50,60,70,80,90,100,200,300,400,500,600,700,800,900,1000,2000,3000,4000,5000,6000,7000,8000,9000,10000,20000,30000,40000,50000,60000,70000,80000,90000,100000], "labelExpr": "datum.value==10?'10':datum.value==100?'100':datum.value==1000?'1k':datum.value==10000?'10k':datum.value==100000?'100k':''", "title": "FREQUENCY (Hz)"}},
"color": {"field": "s", "type": "nominal", "scale": {"domain": ["3.3V", "2.8V", "1.2V", "1.1V"], "range": ["#0c0c70", "#ff0000", "#22e022", "#00ffff"]}, "legend": {"title": null, "orient": "top-right", "offset": 1, "padding": 3, "rowPadding": 0.5, "clipHeight": 15, "labelExpr": "datum.label + '\u00a0\u00a0\u00a0'"}}
},
"layer": [
{"transform": [{"filter": "datum.s != '3.3V'"}], "mark": {"type": "line", "strokeWidth": 3}, "encoding": {"y": {"field": "v", "type": "quantitative", "scale": {"type": "log", "domain": [10, 1000]}, "axis": {"values": [10,20,30,40,50,60,70,80,90,100,200,300,400,500,600,700,800,900,1000], "labelExpr": "datum.value==10?'10':datum.value==100?'100':datum.value==1000?'1000':''", "title": "NOISE SPECTRAL DENSITY (nV/√Hz)", "titlePadding": 10}}}},
{"transform": [{"filter": "datum.s == '3.3V'"}], "mark": {"type": "line", "strokeWidth": 3}, "encoding": {"y": {"field": "v", "type": "quantitative", "scale": {"type": "log", "domain": [10, 1000]}, "axis": {"orient": "right", "labels": false, "grid": false, "title": "08627-021", "titleAngle": 270, "titleX": 30, "titleY": 312, "titleAlign": "center", "titleBaseline": "middle", "titleFontWeight": "normal", "titleFontSize": 7, "titleColor": "#444444"}}}}
],
"resolve": {"axis": {"y": "independent"}}
}
],
"spacing": 212,
"bounds": "flush"
},
{
"resolve": {"scale": {"color": "independent"}, "legend": {"color": "independent"}},
"hconcat": [
{
"width": 372, "height": 297,
"title": {"text": ["Figure 21. PSRR vs. Frequency at Various Voltages and Load Currents,", "VOUT = 2.8 V"], "dx": -11},
"data": {"name": "d21"},
"encoding": {
"x": {"field": "f", "type": "quantitative", "scale": {"type": "log", "domain": [10, 10000000]}, "axis": {"values": [10,20,30,40,50,60,70,80,90,100,200,300,400,500,600,700,800,900,1000,2000,3000,4000,5000,6000,7000,8000,9000,10000,20000,30000,40000,50000,60000,70000,80000,90000,100000,200000,300000,400000,500000,600000,700000,800000,900000,1000000,2000000,3000000,4000000,5000000,6000000,7000000,8000000,9000000,10000000], "labelExpr": "datum.value==10?'10':datum.value==100?'100':datum.value==1000?'1k':datum.value==10000?'10k':datum.value==100000?'100k':datum.value==1000000?'1M':datum.value==10000000?'10M':''", "title": "FREQUENCY (Hz)"}},
"color": {"field": "s", "type": "nominal", "scale": {"domain": ["IOUT = 200mA, VIN = 3.3V", "IOUT = 10mA, VIN =3.3V", "IOUT = 200mA, VIN = 3.8V", "IOUT = 10mA, VIN = 3.8V"], "range": ["#0c0c72", "#ff0000", "#1f1fff", "#ff00ff"]}, "legend": {"title": null, "orient": "top-left", "offset": 1, "padding": 3, "rowPadding": 2, "clipHeight": 15}}
},
"layer": [
{"transform": [{"filter": "datum.s != 'IOUT = 200mA, VIN = 3.3V'"}], "mark": {"type": "line"}, "encoding": {"y": {"field": "v", "type": "quantitative", "scale": {"domain": [-100, 0]}, "axis": {"values": [-100,-90,-80,-70,-60,-50,-40,-30,-20,-10,0], "title": "PSRR (dB)", "titlePadding": 9}}}},
{"transform": [{"filter": "datum.s == 'IOUT = 200mA, VIN = 3.3V'"}], "mark": {"type": "line"}, "encoding": {"y": {"field": "v", "type": "quantitative", "scale": {"domain": [-100, 0]}, "axis": {"orient": "right", "labels": false, "grid": false, "title": "08627-019", "titleAngle": 270, "titleX": 26, "titleY": 311, "titleAlign": "center", "titleBaseline": "middle", "titleFontWeight": "normal", "titleFontSize": 7, "titleColor": "#444444"}}}}
],
"resolve": {"axis": {"y": "independent"}}
},
{
"width": 372, "height": 297,
"title": {"text": "Figure 24. Load Transient Response, CIN, COUT = 1 μF, ILOAD = 1 mA to 200 mA", "dx": 1, "offset": 17, "fontSize": 14},
"layer": [
{"data": {"values": [{"v": 1}]}, "mark": {"type": "rule", "color": "black", "strokeWidth": 2.2},
 "encoding": {"y": {"field": "v", "type": "quantitative", "scale": {"domain": [0, 8], "nice": false, "zero": false}, "axis": {"values": [0,1,2,3,4,5,6,7,8], "grid": true, "labels": false, "ticks": false, "title": null}}}},
{"data": {"name": "d24"}, "transform": [{"filter": "datum.ch == 'CH1'"}], "mark": {"type": "line", "color": "#1a2cff", "strokeWidth": 3, "interpolate": "linear"},
 "encoding": {
  "x": {"field": "t", "type": "quantitative", "scale": {"domain": [0, 10], "nice": false, "zero": false}, "axis": {"values": [0,1,2,3,4,5,6,7,8,9,10], "grid": true, "labels": false, "ticks": false, "title": null}},
  "y": {"field": "v", "type": "quantitative", "scale": {"domain": [0, 8], "nice": false, "zero": false}, "axis": {"orient": "right", "offset": -372, "values": [0,0.2,0.4,0.6,0.8,1,1.2,1.4,1.6,1.8,2,2.2,2.4,2.6,2.8,3,3.2,3.4,3.6,3.8,4,4.2,4.4,4.6,4.8,5,5.2,5.4,5.6,5.8,6,6.2,6.4,6.6,6.8,7,7.2,7.4,7.6,7.8,8], "ticks": true, "tickSize": 4, "tickColor": "black", "grid": false, "labels": false, "title": null}},
  "order": {"field": "i", "type": "quantitative"}}},
{"data": {"name": "d24"}, "transform": [{"filter": "datum.ch == 'CH2'"}], "mark": {"type": "line", "color": "#00ffff", "strokeWidth": 3.5, "interpolate": "linear"},
 "encoding": {
  "x": {"field": "t", "type": "quantitative", "scale": {"domain": [0, 10], "nice": false, "zero": false}, "axis": {"orient": "top", "offset": -297, "values": [0,0.2,0.4,0.6,0.8,1,1.2,1.4,1.6,1.8,2,2.2,2.4,2.6,2.8,3,3.2,3.4,3.6,3.8,4,4.2,4.4,4.6,4.8,5,5.2,5.4,5.6,5.8,6,6.2,6.4,6.6,6.8,7,7.2,7.4,7.6,7.8,8,8.2,8.4,8.6,8.8,9,9.2,9.4,9.6,9.8,10], "ticks": true, "tickSize": 4, "tickColor": "black", "grid": false, "labels": false, "title": null}},
  "y": {"field": "v", "type": "quantitative", "scale": {"domain": [0, 8], "nice": false, "zero": false}, "axis": {"orient": "left", "offset": -372, "values": [0,0.2,0.4,0.6,0.8,1,1.2,1.4,1.6,1.8,2,2.2,2.4,2.6,2.8,3,3.2,3.4,3.6,3.8,4,4.2,4.4,4.6,4.8,5,5.2,5.4,5.6,5.8,6,6.2,6.4,6.6,6.8,7,7.2,7.4,7.6,7.8,8], "ticks": true, "tickSize": 4, "tickColor": "black", "grid": false, "labels": false, "title": null}},
  "order": {"field": "i", "type": "quantitative"}}},
{"data": {"values": [{"t": 0, "v": -0.38, "label": "CH1\u00a0\u00a0200mA"}, {"t": 2.25, "v": -0.38, "label": "CH2\u00a0\u00a050mV"}, {"t": 4.95, "v": -0.38, "label": "M20μs"}, {"t": 5.5, "v": -0.81, "label": "10.00%"}]},
 "mark": {"type": "text", "align": "left", "baseline": "middle", "fontWeight": "bold", "fontSize": 12, "font": "Liberation Sans", "color": "black"},
 "encoding": {
  "x": {"field": "t", "type": "quantitative", "scale": {"domain": [0, 10], "nice": false, "zero": false}, "axis": {"orient": "bottom", "offset": -297, "values": [0,0.2,0.4,0.6,0.8,1,1.2,1.4,1.6,1.8,2,2.2,2.4,2.6,2.8,3,3.2,3.4,3.6,3.8,4,4.2,4.4,4.6,4.8,5,5.2,5.4,5.6,5.8,6,6.2,6.4,6.6,6.8,7,7.2,7.4,7.6,7.8,8,8.2,8.4,8.6,8.8,9,9.2,9.4,9.6,9.8,10], "ticks": true, "tickSize": 4, "tickColor": "black", "grid": false, "labels": false, "title": null}},
  "y": {"field": "v", "type": "quantitative", "scale": {"domain": [0, 8], "nice": false, "zero": false}, "axis": {"orient": "left", "offset": -186, "values": [0,0.2,0.4,0.6,0.8,1,1.2,1.4,1.6,1.8,2,2.2,2.4,2.6,2.8,3,3.2,3.4,3.6,3.8,4,4.2,4.4,4.6,4.8,5,5.2,5.4,5.6,5.8,6,6.2,6.4,6.6,6.8,7,7.2,7.4,7.6,7.8,8], "ticks": true, "tickSize": 3, "tickColor": "black", "grid": false, "labels": false, "title": null}},
  "text": {"field": "label"}}},
{"data": {"values": [{"t": 10.03, "v": -0.38, "label": "A\u00a0\u00a0CH1\u00a0\u00a0∫\u00a064.0mA"}]},
 "mark": {"type": "text", "align": "right", "baseline": "middle", "fontWeight": "bold", "fontSize": 12, "font": "Liberation Sans", "color": "black"},
 "encoding": {
  "x": {"field": "t", "type": "quantitative", "scale": {"domain": [0, 10], "nice": false, "zero": false}, "axis": {"orient": "top", "offset": -148.5, "values": [0,0.2,0.4,0.6,0.8,1,1.2,1.4,1.6,1.8,2,2.2,2.4,2.6,2.8,3,3.2,3.4,3.6,3.8,4,4.2,4.4,4.6,4.8,5,5.2,5.4,5.6,5.8,6,6.2,6.4,6.6,6.8,7,7.2,7.4,7.6,7.8,8,8.2,8.4,8.6,8.8,9,9.2,9.4,9.6,9.8,10], "ticks": true, "tickSize": 3, "tickColor": "black", "grid": false, "labels": false, "title": null}},
  "y": {"field": "v", "type": "quantitative", "scale": {"domain": [0, 8], "nice": false, "zero": false}, "axis": {"orient": "right", "offset": -186, "values": [0,0.2,0.4,0.6,0.8,1,1.2,1.4,1.6,1.8,2,2.2,2.4,2.6,2.8,3,3.2,3.4,3.6,3.8,4,4.2,4.4,4.6,4.8,5,5.2,5.4,5.6,5.8,6,6.2,6.4,6.6,6.8,7,7.2,7.4,7.6,7.8,8], "ticks": true, "tickSize": 3, "tickColor": "black", "grid": false, "labels": false, "title": null}},
  "text": {"field": "label"}}},
{"data": {"values": [{"t": 5, "v": 7.45, "label": "LOAD CURRENT"}, {"t": 5, "v": 2.37, "label": "VOUT"}]},
 "mark": {"type": "text", "align": "center", "baseline": "middle", "fontWeight": "bold", "fontSize": 12, "font": "Liberation Sans", "color": "black"},
 "encoding": {
  "x": {"field": "t", "type": "quantitative", "scale": {"domain": [0, 10], "nice": false, "zero": false}, "axis": {"orient": "bottom", "offset": -148.5, "values": [0,0.2,0.4,0.6,0.8,1,1.2,1.4,1.6,1.8,2,2.2,2.4,2.6,2.8,3,3.2,3.4,3.6,3.8,4,4.2,4.4,4.6,4.8,5,5.2,5.4,5.6,5.8,6,6.2,6.4,6.6,6.8,7,7.2,7.4,7.6,7.8,8,8.2,8.4,8.6,8.8,9,9.2,9.4,9.6,9.8,10], "ticks": true, "tickSize": 3, "tickColor": "black", "grid": false, "labels": false, "title": null}},
  "y": {"field": "v", "type": "quantitative", "scale": {"domain": [0, 8], "nice": false, "zero": false}, "axis": {"orient": "right", "labels": false, "grid": false, "ticks": false, "title": "08627-022", "titleAngle": 270, "titleX": 16, "titleY": 310, "titleAlign": "center", "titleBaseline": "middle", "titleFontWeight": "normal", "titleFontSize": 7, "titleColor": "#444444"}},
  "text": {"field": "label"}}},
{"data": {"values": [{"t": -0.37, "v": 6}, {"t": -0.37, "v": 3}]},
 "mark": {"type": "point", "shape": "M-1,-0.65L0.35,-0.65L1,0L0.35,0.65L-1,0.65Z", "size": 400, "filled": true, "color": "black", "opacity": 1},
 "encoding": {"x": {"field": "t", "type": "quantitative", "scale": {"domain": [0, 10], "nice": false, "zero": false}, "axis": null}, "y": {"field": "v", "type": "quantitative", "scale": {"domain": [0, 8], "nice": false, "zero": false}, "axis": null}}},
{"data": {"values": [{"t": 0.98, "v": 7.78}]},
 "mark": {"type": "point", "shape": "M-0.7,-1L0.7,-1L0.7,0.35L0,1L-0.7,0.35Z", "size": 169, "filled": true, "color": "#9a9a9a", "opacity": 1},
 "encoding": {"x": {"field": "t", "type": "quantitative", "scale": {"domain": [0, 10], "nice": false, "zero": false}, "axis": null}, "y": {"field": "v", "type": "quantitative", "scale": {"domain": [0, 8], "nice": false, "zero": false}, "axis": null}}},
{"data": {"values": [{"t": 5.1, "v": -0.81}]},
 "mark": {"type": "point", "shape": "square", "size": 121, "filled": true, "color": "black", "opacity": 1},
 "encoding": {"x": {"field": "t", "type": "quantitative", "scale": {"domain": [0, 10], "nice": false, "zero": false}, "axis": null}, "y": {"field": "v", "type": "quantitative", "scale": {"domain": [0, 8], "nice": false, "zero": false}, "axis": null}}},
{"data": {"values": [{"t": -0.37, "v": 6, "k": "1"}, {"t": -0.37, "v": 3, "k": "2"}, {"t": 0.98, "v": 7.78, "k": "T"}, {"t": 5.1, "v": -0.81, "k": "T"}]},
 "mark": {"type": "text", "align": "center", "baseline": "middle", "dx": -2, "fontWeight": "bold", "fontSize": 10, "font": "Liberation Sans", "color": "white"},
 "encoding": {"x": {"field": "t", "type": "quantitative", "scale": {"domain": [0, 10], "nice": false, "zero": false}, "axis": null}, "y": {"field": "v", "type": "quantitative", "scale": {"domain": [0, 8], "nice": false, "zero": false}, "axis": null}, "text": {"field": "k"}}}
],
"resolve": {"axis": {"x": "independent", "y": "independent"}}
}
],
"spacing": 198,
"bounds": "flush"
}
]
}
],
"config": {
"view": {"stroke": "black", "strokeWidth": 1.5},
"font": "Liberation Sans",
"axis": {"domain": false, "ticks": false, "grid": true, "gridColor": "black", "gridOpacity": 1, "gridWidth": 0.9, "labelFont": "Liberation Sans", "labelFontWeight": "bold", "labelFontSize": 11.5, "labelColor": "black", "labelPadding": 6, "titleFont": "Liberation Sans", "titleFontWeight": "bold", "titleFontSize": 12, "titleColor": "black", "titlePadding": 5, "labelOverlap": false, "labelBound": false, "labelFlush": false},
"legend": {"fillColor": "white", "symbolType": "stroke", "symbolSize": 729, "symbolStrokeWidth": 3, "labelOffset": 4, "labelFont": "Liberation Sans", "labelFontWeight": "bold", "labelFontSize": 12, "labelColor": "black", "labelLimit": 400},
"title": {"orient": "bottom", "frame": "group", "anchor": "middle", "font": "Lato", "fontStyle": "italic", "fontWeight": "normal", "fontSize": 14.5, "color": "#231f20", "offset": 23.5, "lineHeight": 20},
"line": {"strokeWidth": 2.5, "interpolate": "monotone"}
}
}
